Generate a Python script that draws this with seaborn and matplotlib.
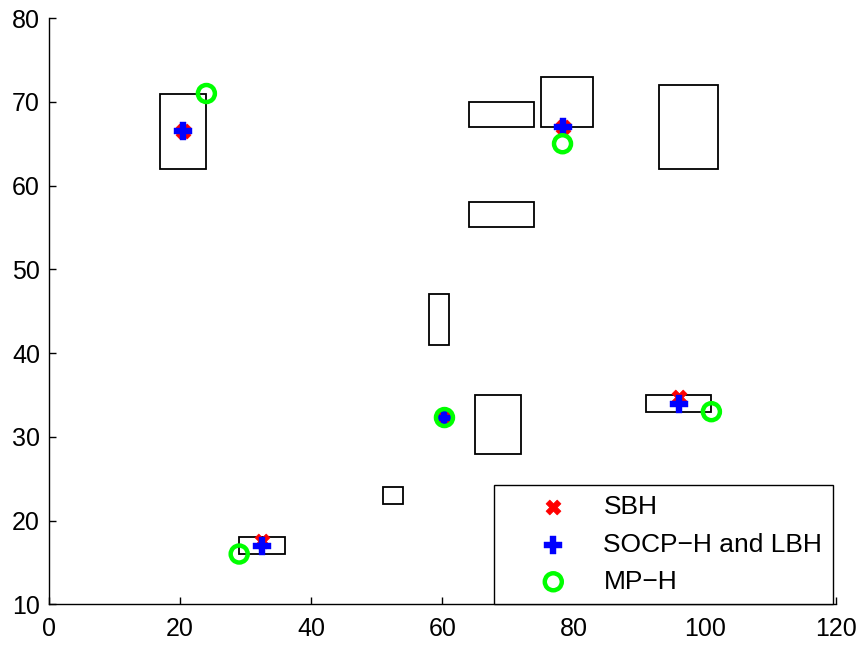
import matplotlib
matplotlib.use("Agg")
import matplotlib.pyplot as plt
from matplotlib.patches import Rectangle
import pandas as pd
import seaborn as sns

# Obstacle boxes: lower-left corner and upper-right corner
box_x_min = [17, 64, 75, 93, 64, 58, 65, 91, 51, 29]
box_x_max = [24, 74, 83, 102, 74, 61, 72, 101, 54, 36]
box_y_min = [62, 67, 67, 62, 55, 41, 28, 33, 22, 16]
box_y_max = [71, 70, 73, 72, 58, 47, 35, 35, 24, 18]

# Estimated positions from each method
sbh_x = [20.5, 78.3, 60.3, 96.0, 32.5]
sbh_y = [66.5, 67.0, 32.3, 34.8, 17.6]
socp_x = [20.5, 78.3, 60.3, 96.0, 32.5]
socp_y = [66.5, 67.0, 32.3, 33.9, 16.9]
mph_x = [24.0, 78.3, 60.3, 101.0, 29.0]
mph_y = [71.0, 65.0, 32.3, 33.0, 16.0]

series_names = ["SBH", "SOCP\u2212H and LBH", "MP\u2212H"]
x_ticks = [0, 20, 40, 60, 80, 100, 120]
y_ticks = [10, 20, 30, 40, 50, 60, 70, 80]

sns.set_style("white")
plt.rcParams["font.family"] = ["Liberation Sans", "DejaVu Sans"]
plt.rcParams["axes.unicode_minus"] = True
plt.rcParams["text.color"] = "black"
plt.rcParams["xtick.color"] = "black"
plt.rcParams["ytick.color"] = "black"

fig, ax = plt.subplots(figsize=(8.64, 6.48), dpi=100)
fig.subplots_adjust(left=0.0567, right=0.9676, bottom=0.0675, top=0.972)

for x0, x1, y0, y1 in zip(box_x_min, box_x_max, box_y_min, box_y_max):
    ax.add_patch(Rectangle((x0, y0), x1 - x0, y1 - y0, fill=False,
                           edgecolor="black", linewidth=1.3, zorder=1))

sbh = pd.DataFrame({"x": sbh_x, "y": sbh_y})
socp = pd.DataFrame({"x": socp_x, "y": socp_y})
mph = pd.DataFrame({"x": mph_x, "y": mph_y})

sns.scatterplot(data=sbh, x="x", y="y", ax=ax, marker="X", s=115,
                color="#ff0000", edgecolor="#ff0000", linewidth=0.5,
                label=series_names[0], zorder=3)
sns.scatterplot(data=socp, x="x", y="y", ax=ax, marker="P", s=150,
                color="#0000ff", edgecolor="#0000ff", linewidth=0.3,
                label=series_names[1], zorder=4)
sns.scatterplot(data=mph, x="x", y="y", ax=ax, marker="o", s=150,
                facecolor="none", edgecolor="#00ff00", linewidth=3.2,
                label=series_names[2], zorder=5)

ax.set_xlim(0, 120)
ax.set_ylim(10, 80)
ax.set_xticks(x_ticks)
ax.set_yticks(y_ticks)
ax.set_xlabel("")
ax.set_ylabel("")

for side in ("top", "right"):
    ax.spines[side].set_visible(False)
for side in ("left", "bottom"):
    ax.spines[side].set_color("black")
    ax.spines[side].set_linewidth(1.0)

ax.xaxis.set_ticks_position("bottom")
ax.yaxis.set_ticks_position("left")
ax.tick_params(axis="both", direction="in", length=5, width=1.0,
               colors="black", labelsize=18)
ax.tick_params(axis="x", pad=9)
ax.tick_params(axis="y", pad=6.5)

leg = ax.legend(loc="lower right", bbox_to_anchor=(0.996, 0.0),
                borderaxespad=0.0, fontsize=19, frameon=True, fancybox=False,
                edgecolor="black", framealpha=1.0, handletextpad=0.05,
                labelspacing=0.5, borderpad=0.4, handlelength=3.7,
                markerscale=1.0)
leg.get_frame().set_linewidth(1.0)
for t in leg.get_texts():
    t.set_color("black")

fig.savefig("out.png", dpi=100, facecolor="white")
